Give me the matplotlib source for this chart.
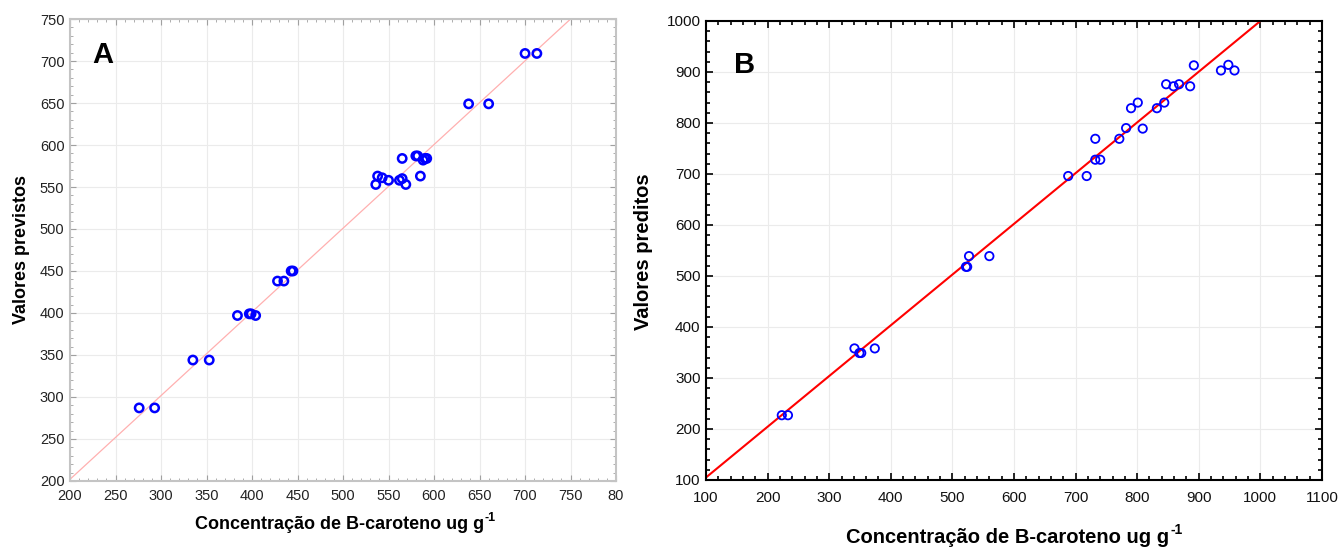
import matplotlib.pyplot as plt
from matplotlib.ticker import MultipleLocator

plt.rcParams['font.family'] = ['Liberation Sans', 'DejaVu Sans']

# Panel A: observed vs predicted
a_obs = [276, 293, 335, 353, 384, 397, 399, 404, 428, 435, 443, 445,
         536, 538, 543, 550, 562, 565, 569, 565, 580, 582, 585, 588, 590, 592,
         638, 660, 700, 713]
a_pred = [287, 287, 344, 344, 397, 399, 399, 397, 438, 438, 450, 450,
          553, 563, 561, 558, 558, 560, 553, 584, 587, 587, 563, 582, 584, 584,
          649, 649, 709, 709]
a_line_x = [200, 750]
a_line_y = [202, 750]

# Panel B
b_obs = [223, 233, 341, 349, 352, 374, 522, 524, 527, 560,
         688, 718, 732, 732, 740, 771, 782, 790, 801, 809, 832, 844,
         847, 859, 868, 886, 892, 936, 948, 958]
b_pred = [227, 227, 358, 349, 349, 358, 518, 518, 539, 539,
          696, 696, 769, 728, 728, 769, 790, 829, 840, 789, 829, 840,
          876, 872, 876, 872, 913, 903, 914, 903]
b_line_x = [100, 1000]
b_line_y = [105, 1000]

xlabel = 'Concentração de B-caroteno ug g'

fig = plt.figure(figsize=(13.41, 5.48), dpi=100)
ax_a = fig.add_axes([0.0522, 0.1223, 0.4072, 0.843])
ax_b = fig.add_axes([0.5265, 0.1241, 0.4593, 0.8376])

# --- A ---
ax_a.plot(a_line_x, a_line_y, color='#ffb0b0', lw=0.9, zorder=2)
ax_a.scatter(a_obs, a_pred, s=36, facecolors='none', edgecolors='#0000ff',
             linewidths=1.8, zorder=3)
ax_a.set_xlim(200, 800)
ax_a.set_ylim(200, 750)
ax_a.yaxis.set_major_locator(MultipleLocator(50))
ax_a.xaxis.set_minor_locator(MultipleLocator(10))
ax_a.yaxis.set_minor_locator(MultipleLocator(10))
ax_a.set_xticks(range(200, 801, 50))
ax_a.set_xticklabels([str(v) for v in range(200, 751, 50)] + ['80'])
ax_a.grid(True, which='major', color='#ebebeb', lw=0.8, zorder=0)
for s in ax_a.spines.values():
    s.set_color('#c4c4c4')
    s.set_linewidth(1.5)
ax_a.tick_params(which='both', direction='in', top=True, right=True,
                 color='#a0a0a0', labelsize=10.5, labelcolor='#222222')
ax_a.tick_params(which='major', length=4)
ax_a.tick_params(which='minor', length=2)
ax_a.tick_params(axis='x', pad=6)
ax_a.tick_params(axis='y', pad=4)
ax_a.text(0.06, 0.922, 'A', transform=ax_a.transAxes, fontsize=21,
          fontweight='bold', ha='center', va='center')

# --- B ---
ax_b.plot(b_line_x, b_line_y, color='#ff0000', lw=1.5, zorder=2)
ax_b.scatter(b_obs, b_pred, s=36, facecolors='none', edgecolors='#0000ff',
             linewidths=1.3, zorder=3)
ax_b.set_xlim(100, 1100)
ax_b.set_ylim(100, 1000)
ax_b.xaxis.set_major_locator(MultipleLocator(100))
ax_b.yaxis.set_major_locator(MultipleLocator(100))
ax_b.xaxis.set_minor_locator(MultipleLocator(20))
ax_b.yaxis.set_minor_locator(MultipleLocator(20))
ax_b.grid(True, which='major', color='#ebebeb', lw=0.8, zorder=0)
for s in ax_b.spines.values():
    s.set_color('#000000')
    s.set_linewidth(1.5)
ax_b.tick_params(which='both', direction='in', top=True, right=True,
                 color='black', width=1.2, labelsize=11, labelcolor='#111111')
ax_b.tick_params(which='major', length=5)
ax_b.tick_params(which='minor', length=3)
ax_b.tick_params(axis='x', pad=8)
ax_b.tick_params(axis='y', pad=4)
ax_b.text(0.063, 0.904, 'B', transform=ax_b.transAxes, fontsize=21,
          fontweight='bold', ha='center', va='center')

# axis titles (superscript -1 added as a small separate text)
ta = fig.text(0.2530, 0.042, xlabel, fontsize=13, fontweight='bold',
              ha='center', va='center')
fig.text(0.0164, 0.544, 'Valores previstos', fontsize=13, fontweight='bold',
         ha='center', va='center', rotation=90)
tb = fig.text(0.7517, 0.020, xlabel, fontsize=14.5, fontweight='bold',
              ha='center', va='center')
fig.text(0.4795, 0.540, 'Valores preditos', fontsize=14.5, fontweight='bold',
         ha='center', va='center', rotation=90)

for t, fs in ((ta, 9), (tb, 10)):
    fig.add_artist(plt.Annotation('-1', xy=(1.0, 1.0), xycoords=t,
                                  xytext=(0.5, 3), textcoords='offset points',
                                  fontsize=fs, fontweight='bold',
                                  ha='left', va='top'))

fig.savefig('out.png', dpi=100)
